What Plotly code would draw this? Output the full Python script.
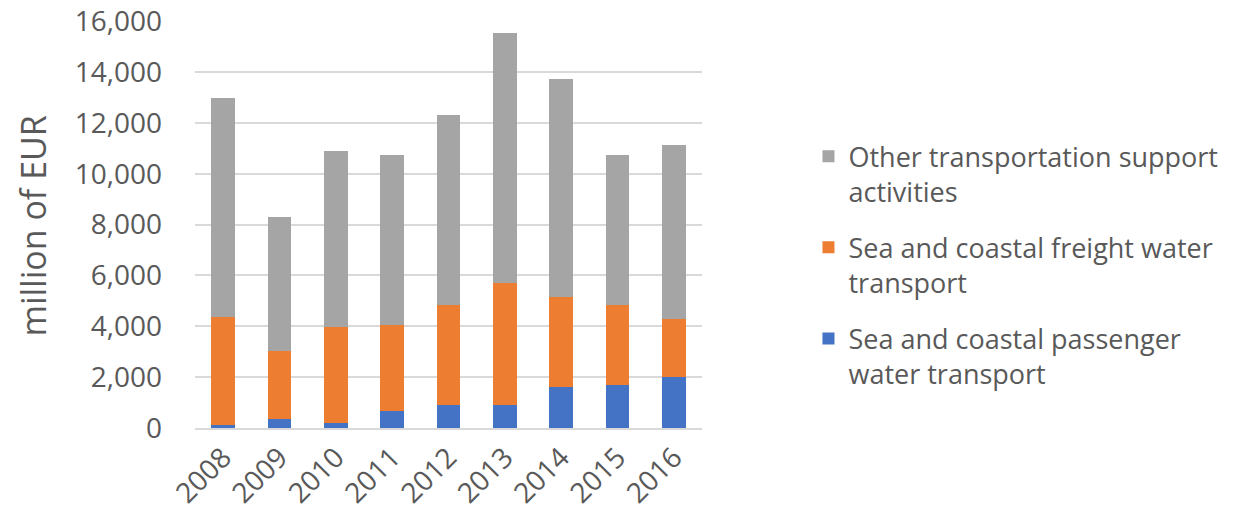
import plotly.graph_objects as go

years = ["2008", "2009", "2010", "2011", "2012", "2013", "2014", "2015", "2016"]
passenger = [100, 340, 185, 660, 890, 890, 1600, 1680, 2000]
freight = [4260, 2680, 3775, 3380, 3940, 4810, 3550, 3150, 2280]
totals = [13000, 8300, 10890, 10740, 12310, 15540, 13730, 10740, 11130]
other = [t - p - f for t, p, f in zip(totals, passenger, freight)]

names = ["Sea and coastal passenger<br>water transport",
         "Sea and coastal freight water<br>transport",
         "Other transportation support<br>activities"]
colors = ["#4472C4", "#ED7D31", "#A5A5A5"]
ranks = [3, 2, 1]
series = [passenger, freight, other]

FONT = "Open Sans"
TXT = "#595959"

fig = go.Figure()
for i, (name, col, vals) in enumerate(zip(names, colors, series)):
    fig.add_trace(go.Bar(x=years, y=vals, name=name, marker_color=col,
                         marker_line_width=0, legendgroup=f"g{i}",
                         legendrank=ranks[i]))

fig.update_layout(
    barmode="stack",
    bargap=0.58,
    width=1233, height=531,
    margin=dict(l=195, r=531, t=21, b=103, autoexpand=False),
    paper_bgcolor="white", plot_bgcolor="white",
    font=dict(family=FONT, size=28, color=TXT),
    legend=dict(x=1.21, y=0.727,
                xanchor="left", yanchor="top", valign="top",
                font=dict(family=FONT, size=27, color=TXT),
                tracegroupgap=18),
    showlegend=True,
)
fig.update_yaxes(range=[0, 16010], tickvals=list(range(0, 16001, 2000)),
                 tickformat=",d",
                 showgrid=True, gridcolor="#D9D9D9", gridwidth=2,
                 zeroline=False, showline=False, automargin=False,
                 ticklabelstandoff=32, ticklabeloverflow="allow",
                 tickfont=dict(family=FONT, size=28, color=TXT))
fig.update_xaxes(tickangle=-45, showline=True, linecolor="#D9D9D9",
                 linewidth=2, ticks="", automargin=False,
                 ticklabeloverflow="allow",
                 tickfont=dict(family=FONT, size=28, color=TXT))
fig.add_annotation(text="million of EUR", textangle=-90, xref="paper",
                   yref="paper", x=(33 - 195) / 507, y=0.495,
                   xanchor="center", yanchor="middle", showarrow=False,
                   font=dict(family=FONT, size=34, color=TXT))

fig.write_html("out.html",
               config={"displayModeBar": False},
               post_script="document.body.style.margin='0';"
                           "document.body.style.overflow='hidden';")
